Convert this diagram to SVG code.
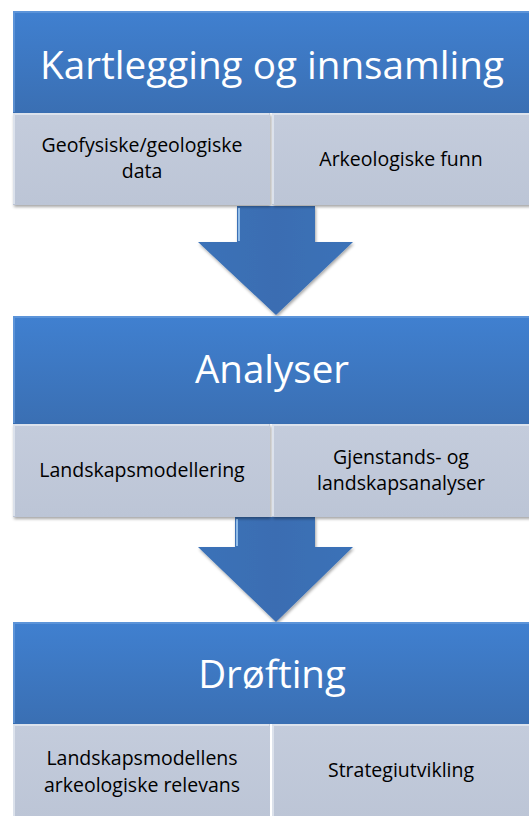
<svg xmlns="http://www.w3.org/2000/svg" width="529" height="816" viewBox="0 0 529 816">
<defs>
<linearGradient id="hdr" x1="0" y1="0" x2="0" y2="1">
<stop offset="0" stop-color="#4080d0"/>
<stop offset="1" stop-color="#3a6fb3"/>
</linearGradient>
<linearGradient id="sub" x1="0" y1="0" x2="0" y2="1">
<stop offset="0" stop-color="#c4ccdc"/>
<stop offset="1" stop-color="#bcc5d6"/>
</linearGradient>
<linearGradient id="arr" x1="0" y1="0" x2="1" y2="0">
<stop offset="0" stop-color="#3a72b8"/>
<stop offset="0.5" stop-color="#3a6db2"/>
<stop offset="1" stop-color="#3a72b8"/>
</linearGradient>
<filter id="sh" x="-5%" y="-5%" width="110%" height="115%">
<feDropShadow dx="1" dy="2" stdDeviation="1.5" flood-color="#000" flood-opacity="0.35"/>
</filter>
</defs>
<style>
.hdr{fill:url(#hdr);}
.hbev{fill:none;stroke:#6fa2e0;stroke-width:2;opacity:0.6;}
.sub{fill:url(#sub);}
.sbev{fill:none;stroke:#e2e7f0;stroke-width:2;opacity:0.8;}
.arrow{fill:url(#arr);}
.ht{font-family:"Open Sans","Lato",sans-serif;fill:#ffffff;text-anchor:middle;font-size:38.5px;}
.st{font-family:"Open Sans","Lato",sans-serif;font-size:19.5px;fill:#000000;text-anchor:middle;}
</style>

<g id="connectors">
<path class="arrow" filter="url(#sh)" d="M237,206 L315,206 L315,242 L353,242 L276,315 L198,242 L237,242 Z"/>
<path d="M239,208 L239,241" stroke="#a8d0f5" stroke-width="2" fill="none" opacity="0.8"/>
<path class="arrow" filter="url(#sh)" d="M235,517 L315,517 L315,547 L353,547 L276,622 L198,547 L235,547 Z"/>
<path d="M237,519 L237,546" stroke="#a8d0f5" stroke-width="2" fill="none" opacity="0.8"/>
</g>

<g id="node1">
<rect class="hdr" x="13" y="11" width="520" height="102"/>
<path class="hbev" d="M14,112 L14,12 L530,12"/>
<text class="ht" x="272" y="79" textLength="464" lengthAdjust="spacingAndGlyphs">Kartlegging og innsamling</text>
</g>
<g id="node1a">
<rect class="sub" filter="url(#sh)" x="13" y="113" width="257" height="92"/>
<path class="sbev" d="M14,204 L14,114 L269,114"/>
<text class="st" x="142" y="152">Geofysiske/geologiske</text>
<text class="st" x="142" y="178">data</text>
</g>
<g id="node1b">
<rect class="sub" filter="url(#sh)" x="272" y="113" width="262" height="92"/>
<path class="sbev" d="M273,204 L273,114 L530,114"/>
<text class="st" x="401" y="166">Arkeologiske funn</text>
</g>

<g id="node2">
<rect class="hdr" x="13" y="316" width="520" height="108"/>
<path class="hbev" d="M14,423 L14,317 L530,317"/>
<text class="ht" x="272" y="383">Analyser</text>
</g>
<g id="node2a">
<rect class="sub" filter="url(#sh)" x="13" y="424" width="257" height="93"/>
<path class="sbev" d="M14,516 L14,425 L269,425"/>
<text class="st" x="142" y="477">Landskapsmodellering</text>
</g>
<g id="node2b">
<rect class="sub" filter="url(#sh)" x="272" y="424" width="262" height="93"/>
<path class="sbev" d="M273,516 L273,425 L530,425"/>
<text class="st" x="401" y="464">Gjenstands- og</text>
<text class="st" x="401" y="490">landskapsanalyser</text>
</g>

<g id="node3">
<rect class="hdr" x="13" y="622" width="520" height="102"/>
<path class="hbev" d="M14,723 L14,623 L530,623"/>
<text class="ht" x="272" y="688">Drøfting</text>
</g>
<g id="node3a">
<rect class="sub" x="13" y="724" width="257" height="95"/>
<path class="sbev" d="M14,818 L14,725 L269,725"/>
<text class="st" x="142" y="765">Landskapsmodellens</text>
<text class="st" x="142" y="792">arkeologiske relevans</text>
</g>
<g id="node3b">
<rect class="sub" x="272" y="724" width="262" height="95"/>
<path class="sbev" d="M273,818 L273,725 L530,725"/>
<text class="st" x="401" y="777">Strategiutvikling</text>
</g>
</svg>
